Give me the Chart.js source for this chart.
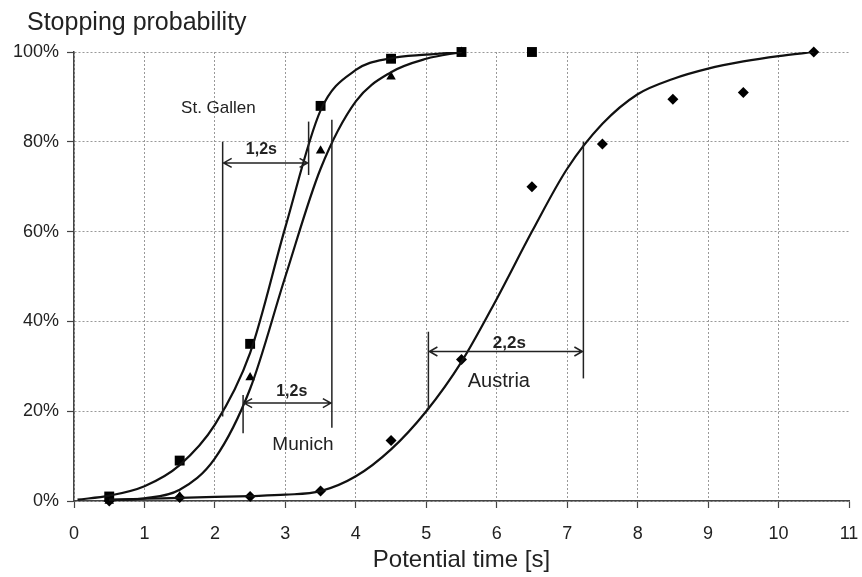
<!DOCTYPE html>
<html>
<head>
<meta charset="utf-8">
<script src="https://cdn.jsdelivr.net/npm/chart.js@4.4.1/dist/chart.umd.min.js"></script>
<style>
  html, body { margin: 0; padding: 0; background: #fff; }
  #wrap { width: 862px; height: 577px; }
</style>
</head>
<body>
<div id="wrap"><canvas id="myChart" width="862" height="577"></canvas></div>
<script>
// measured points (potential time in s, stopping probability in %)
const pointTimes = [0.5, 1.5, 2.5, 3.5, 4.5, 5.5, 6.5, 7.5, 8.5, 9.5, 10.5];
const stGallenPoints = [1, 9, 35, 88, 98.5, 100, 100];
const munichPoints = [0, 1, 27.5, 78, 94.5, 100];
const austriaPoints = [0, 0.8, 1, 2.2, 13.5, 31.5, 70, 79.5, 89.5, 91, 100];

// fitted curves
const stGallenFitX = [0.05, 0.5, 1, 1.5, 2, 2.5, 3, 3.5, 4, 4.5, 5, 5.5];
const stGallenFit = [0.3, 1.2, 3.3, 8, 17, 33, 61, 87, 96, 98.6, 99.4, 100];
const munichFitX = [0.5, 1, 1.5, 2, 2.5, 3, 3.5, 4, 4.5, 5, 5.5];
const munichFit = [0.2, 0.6, 2.5, 9.5, 25, 50, 74, 89, 95.5, 98.5, 100];
const austriaFitX = [0.5, 1, 1.5, 2, 2.5, 3, 3.5, 4, 4.5, 5, 5.5, 6, 6.5, 7, 7.5, 8, 8.5, 9, 9.5, 10, 10.5];
const austriaFit = [0.3, 0.5, 0.7, 0.9, 1.1, 1.4, 2.2, 5.5, 11.5, 20, 31, 45, 60, 74, 84, 90.6, 94, 96.3, 97.9, 99.1, 100];

const xTicks = [0, 1, 2, 3, 4, 5, 6, 7, 8, 9, 10, 11];
const yTicks = [0, 20, 40, 60, 80, 100];

function toXY(xs, ys) {
    return ys.map((y, i) => ({ x: xs[i], y: y }));
}

// interval markers: vertical lines, arrows and labels in data units
const vLines = [
    [2.11, 18.8, 80.0], [3.33, 72.6, 84.5],
    [2.40, 15.1, 23.6], [3.66, 16.3, 84.9],
    [5.03, 20.3, 37.7], [7.23, 27.3, 80]
];
const arrows = [
    [2.11, 3.33, 75.3],
    [2.40, 3.66, 21.8],
    [5.03, 7.23, 33.3]
];
const labels = [
    ['St. Gallen', 2.05, 87.5, 'normal', 17],
    ['1,2s', 2.66, 78.2, 'bold', 16],
    ['1,2s', 3.09, 24.3, 'bold', 16],
    ['Munich', 3.25, 12.5, 'normal', 19],
    ['2,2s', 6.18, 35.1, 'bold', 17],
    ['Austria', 6.03, 26.6, 'normal', 20]
];

const markerPlugin = {
    id: 'markers',
    afterDatasetsDraw(chart) {
        const ctx = chart.ctx;
        const xs = chart.scales.x;
        const ys = chart.scales.y;
        ctx.save();
        ctx.strokeStyle = '#222';
        ctx.lineWidth = 1.5;
        vLines.forEach(([x, y0, y1]) => {
            ctx.beginPath();
            ctx.moveTo(xs.getPixelForValue(x), ys.getPixelForValue(y0));
            ctx.lineTo(xs.getPixelForValue(x), ys.getPixelForValue(y1));
            ctx.stroke();
        });
        arrows.forEach(([x0, x1, y]) => {
            const a = xs.getPixelForValue(x0);
            const b = xs.getPixelForValue(x1);
            const py = ys.getPixelForValue(y);
            ctx.beginPath();
            ctx.moveTo(a, py);
            ctx.lineTo(b, py);
            ctx.moveTo(a + 9, py - 4.5);
            ctx.lineTo(a + 1, py);
            ctx.lineTo(a + 9, py + 4.5);
            ctx.moveTo(b - 9, py - 4.5);
            ctx.lineTo(b - 1, py);
            ctx.lineTo(b - 9, py + 4.5);
            ctx.stroke();
        });
        ctx.fillStyle = '#222';
        ctx.textAlign = 'center';
        ctx.textBaseline = 'middle';
        labels.forEach(([text, x, y, weight, size]) => {
            ctx.font = weight + ' ' + size + 'px "Liberation Sans", Arial, sans-serif';
            ctx.fillText(text, xs.getPixelForValue(x), ys.getPixelForValue(y));
        });
        // y axis title, top left
        ctx.textAlign = 'left';
        ctx.textBaseline = 'alphabetic';
        ctx.font = '25px "Liberation Sans", Arial, sans-serif';
        ctx.fillText('Stopping probability', 27, 30);
        ctx.restore();
    }
};

const curveStyle = {
    showLine: true,
    pointRadius: 0,
    borderColor: '#111',
    borderWidth: 2.2,
    cubicInterpolationMode: 'monotone',
    fill: false
};

const gridColor = (c) => (c.tick && c.tick.value === 11 ? 'rgba(0,0,0,0)' : '#999');

const ctx = document.getElementById('myChart').getContext('2d');
new Chart(ctx, {
    type: 'scatter',
    data: {
        datasets: [
            Object.assign({ label: 'St. Gallen fit', data: toXY(stGallenFitX, stGallenFit) }, curveStyle),
            Object.assign({ label: 'Munich fit', data: toXY(munichFitX, munichFit) }, curveStyle),
            Object.assign({ label: 'Austria fit', data: toXY(austriaFitX, austriaFit) }, curveStyle),
            {
                label: 'St. Gallen',
                data: toXY(pointTimes, stGallenPoints),
                pointStyle: 'rect',
                pointRadius: 7,
                backgroundColor: '#000',
                borderColor: '#000',
                borderWidth: 0,
                clip: false
            },
            {
                label: 'Munich',
                data: toXY(pointTimes, munichPoints),
                pointStyle: 'triangle',
                pointRadius: 5.5,
                backgroundColor: '#000',
                borderColor: '#000',
                borderWidth: 0,
                clip: false
            },
            {
                label: 'Austria',
                data: toXY(pointTimes, austriaPoints),
                pointStyle: 'rectRot',
                pointRadius: 5.5,
                backgroundColor: '#000',
                borderColor: '#000',
                borderWidth: 0,
                clip: false
            }
        ]
    },
    options: {
        responsive: false,
        animation: false,
        layout: { padding: { top: 52, right: 13, left: 0, bottom: 0 } },
        plugins: {
            legend: { display: false },
            tooltip: { enabled: false }
        },
        scales: {
            x: {
                type: 'linear',
                min: 0,
                max: 11,
                afterBuildTicks: (scale) => { scale.ticks = xTicks.map(v => ({ value: v })); },
                afterFit: (scale) => {
                    scale.height = 76;
                    scale.paddingLeft = 0;
                    scale.paddingRight = 0;
                },
                ticks: {
                    color: '#222',
                    font: { family: '"Liberation Sans", Arial, sans-serif', size: 18 },
                    padding: 15,
                    maxRotation: 0
                },
                grid: {
                    color: gridColor,
                    lineWidth: 1,
                    tickLength: 7,
                    tickColor: '#444',
                    tickWidth: 1.2
                },
                border: { display: true, color: '#444', width: 1.5, dash: [2, 2] },
                title: {
                    display: true,
                    text: 'Potential time [s]',
                    color: '#222',
                    font: { family: '"Liberation Sans", Arial, sans-serif', size: 24 },
                    padding: { top: 0, bottom: 2 }
                }
            },
            y: {
                type: 'linear',
                min: 0,
                max: 100,
                afterBuildTicks: (scale) => { scale.ticks = yTicks.map(v => ({ value: v })); },
                afterFit: (scale) => {
                    scale.width = 74;
                    scale.paddingTop = 0;
                    scale.paddingBottom = 0;
                },
                ticks: {
                    color: '#222',
                    font: { family: '"Liberation Sans", Arial, sans-serif', size: 18 },
                    padding: 8,
                    callback: (v) => v + '%'
                },
                grid: {
                    color: '#999',
                    lineWidth: 1,
                    tickLength: 7,
                    tickColor: '#444',
                    tickWidth: 1.2
                },
                border: { display: true, color: '#444', width: 1.5, dash: [2, 2] }
            }
        }
    },
    plugins: [markerPlugin]
});
</script>
</body>
</html>
